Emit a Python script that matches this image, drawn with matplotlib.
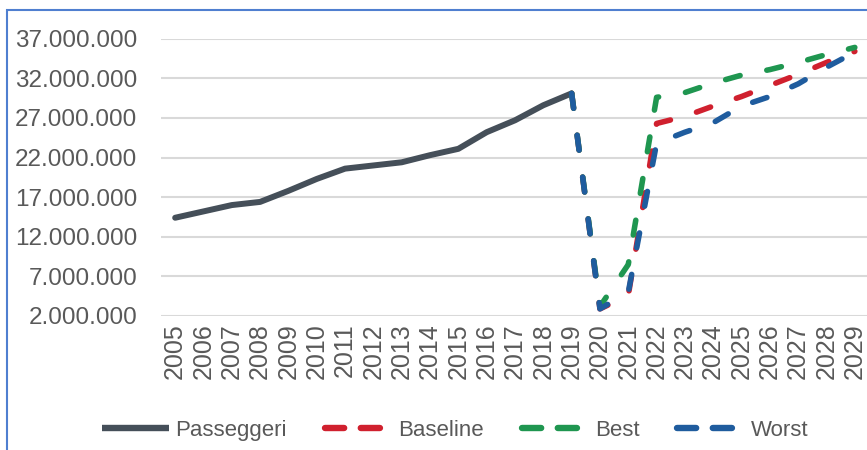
import numpy as np
import matplotlib
matplotlib.use("Agg")
import matplotlib.pyplot as plt
from matplotlib.ticker import FuncFormatter
from matplotlib.patches import Rectangle
from matplotlib.lines import Line2D

years = [str(y) for y in range(2005, 2030)]

# passengers, millions (2005-2019)
passeggeri = [14.4, 15.2, 16.0, 16.4, 17.8, 19.3, 20.6, 21.0, 21.4, 22.3,
              23.1, 25.2, 26.7, 28.6, 30.1]

# scenarios, millions (2019-2029)
baseline = [30.1, 2.9, 4.6, 26.3, 27.2, 28.5, 29.7, 31.1, 32.5, 34.0, 35.4]
best = [30.1, 3.2, 8.5, 29.6, 30.2, 31.4, 32.4, 33.1, 34.0, 35.0, 35.9]
worst = [30.1, 2.9, 5.0, 23.8, 25.2, 26.4, 28.5, 29.7, 31.3, 33.4, 35.3]

plt.rcParams['font.family'] = ['Liberation Sans', 'DejaVu Sans']

fig = plt.figure(figsize=(8.67, 4.5), dpi=100)
ax = fig.add_axes([0.1857, 0.2978, 0.8166, 0.6162])

x_hist = np.arange(len(passeggeri))
x_scen = np.arange(len(passeggeri) - 1, len(years))

gray = "#454f59"
series = [(baseline, "#d0202e", "Baseline"),
          (best, "#1f9650", "Best"),
          (worst, "#1f5c9e", "Worst")]

ax.plot(x_hist, np.array(passeggeri) * 1e6, color=gray, lw=4.3,
        solid_capstyle="round", solid_joinstyle="round")
for vals, col, name in series:
    ax.plot(x_scen, np.array(vals) * 1e6, color=col, lw=4.0,
            dashes=(2.7, 4.9), dash_capstyle="round")

ax.set_xlim(-0.5, len(years) - 0.5)
ax.set_ylim(2e6, 37e6)
ax.set_yticks(np.arange(2e6, 37.1e6, 5e6))
ax.yaxis.set_major_formatter(
    FuncFormatter(lambda v, p: f"{v:,.0f}".replace(",", ".")))
ax.set_xticks(range(len(years)))
ax.set_xticklabels(years, rotation=90)

ax.grid(axis="y", color="#d9d9d9", lw=1.5)
ax.set_axisbelow(True)
for s in ax.spines.values():
    s.set_visible(False)
ax.tick_params(axis="y", length=0, pad=17, labelsize=17.5, labelcolor="#595959")
ax.tick_params(axis="x", length=0, pad=5, labelsize=18, labelcolor="#595959")

# legend handles: shorter dashes than the plotted lines
handles = [Line2D([], [], color=gray, lw=4.6, solid_capstyle="butt")]
for vals, col, name in series:
    handles.append(Line2D([], [], color=col, lw=4.6, dashes=(3.0, 2.6),
                          dash_capstyle="round"))
labels = ["Passeggeri"] + [s[2] for s in series]
fig.legend(handles, labels, loc="center", bbox_to_anchor=(0.525, 0.044),
           ncol=4, frameon=False, handlelength=3.0, handletextpad=0.3,
           columnspacing=1.7, fontsize=16, labelcolor="#595959")

# outer chart frame
fig.patches.append(Rectangle((7 / 867, -0.1), 1.0, 0.1 + 440 / 450,
                             transform=fig.transFigure, fill=False,
                             edgecolor="#4f7fd0", lw=1.5))

fig.savefig("out.png", dpi=100)
